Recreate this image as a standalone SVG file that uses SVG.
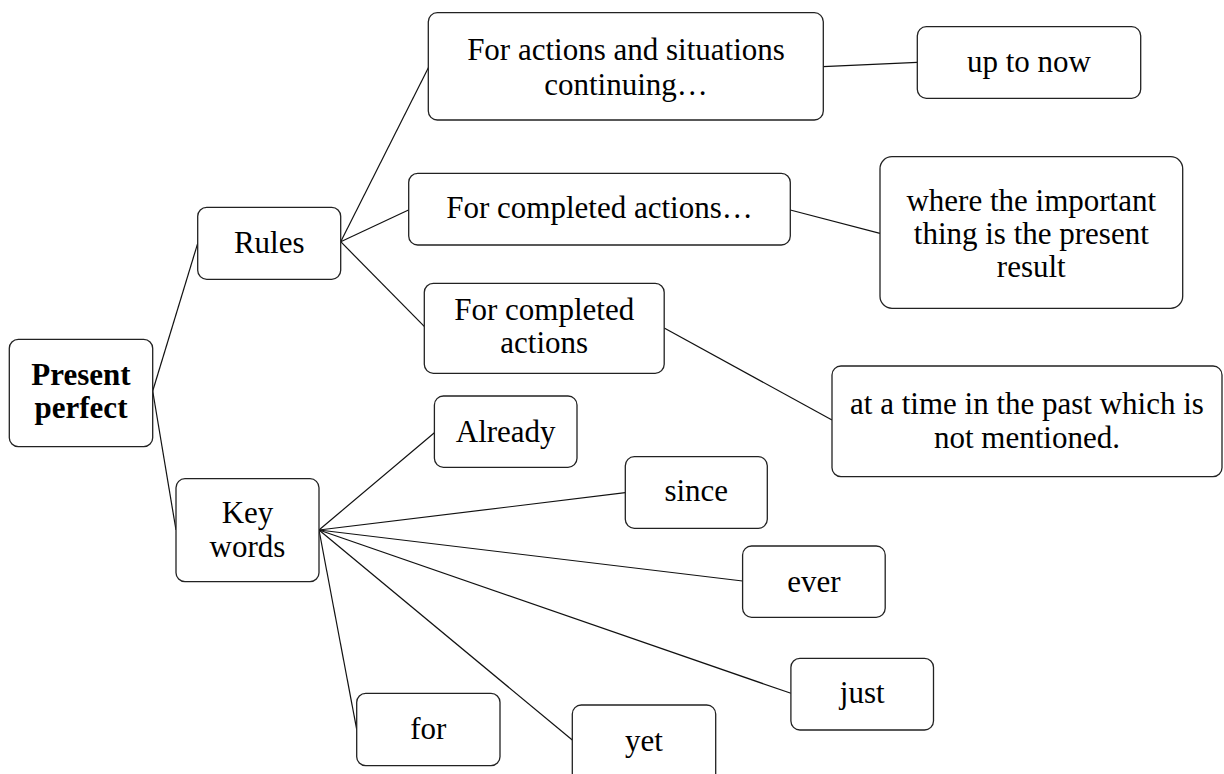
<svg xmlns="http://www.w3.org/2000/svg" width="1224" height="774" viewBox="0 0 1224 774">
<style>
.box{fill:#fff;stroke:#222;stroke-width:1.3}
.t{font-family:"Liberation Serif","Times New Roman",serif;font-size:31px;fill:#000;text-anchor:middle}
.b{font-weight:bold}
.c line{stroke:#111;stroke-width:1.2}
</style>
<rect width="1224" height="774" fill="#fff"/>
<g class="c" id="connectors">
<line x1="152.7" y1="391" x2="197.7" y2="243.3"/>
<line x1="152.7" y1="391" x2="176" y2="530"/>
<line x1="340.7" y1="241.7" x2="429" y2="66.5"/>
<line x1="340.7" y1="241.7" x2="408.5" y2="210"/>
<line x1="340.7" y1="241.7" x2="424.5" y2="326.7"/>
<line x1="823" y1="66.7" x2="917.3" y2="62.3"/>
<line x1="790.3" y1="210" x2="880" y2="233.3"/>
<line x1="664.2" y1="328" x2="832" y2="420"/>
<line x1="319" y1="530" x2="434.4" y2="432.7"/>
<line x1="319" y1="530" x2="625.3" y2="492.7"/>
<line x1="319" y1="530" x2="742.6" y2="581"/>
<line x1="319" y1="530" x2="790.9" y2="693.3"/>
<line x1="319" y1="530" x2="572.3" y2="740"/>
<line x1="319" y1="530" x2="356.7" y2="729.3"/>
</g>
<g id="present-perfect">
<rect class="box" x="9.3" y="339.3" width="143.4" height="107.4" rx="9"/>
<text class="t b" x="81" y="385">Present</text>
<text class="t b" x="81" y="418.3">perfect</text>
</g>
<g id="rules">
<rect class="box" x="197.7" y="207.3" width="143" height="72" rx="9"/>
<text class="t" x="269.2" y="253.3">Rules</text>
</g>
<g id="key-words">
<rect class="box" x="176" y="478.7" width="143" height="103" rx="9"/>
<text class="t" x="247.5" y="523.3">Key</text>
<text class="t" x="247.5" y="556.8">words</text>
</g>
<g id="for-actions-continuing">
<rect class="box" x="428.3" y="12.7" width="395" height="107.3" rx="9"/>
<text class="t" x="626" y="60">For actions and situations</text>
<text class="t" x="626" y="94.5">continuing…</text>
</g>
<g id="up-to-now">
<rect class="box" x="917.3" y="26.7" width="223.4" height="71.6" rx="9"/>
<text class="t" x="1029" y="72.3">up to now</text>
</g>
<g id="for-completed-actions-result">
<rect class="box" x="408.7" y="173.3" width="381.6" height="71.7" rx="9"/>
<text class="t" x="599.5" y="218.3">For completed actions…</text>
</g>
<g id="where-important">
<rect class="box" x="880" y="156.7" width="302.7" height="151.6" rx="12"/>
<text class="t" x="1031.3" y="210.7">where the important</text>
<text class="t" x="1031.3" y="244">thing is the present</text>
<text class="t" x="1031.3" y="277">result</text>
</g>
<g id="for-completed-actions-past">
<rect class="box" x="424.3" y="283.3" width="239.9" height="90" rx="9"/>
<text class="t" x="544.2" y="320">For completed</text>
<text class="t" x="544.2" y="353.3">actions</text>
</g>
<g id="at-a-time">
<rect class="box" x="832" y="366" width="390" height="110.7" rx="9"/>
<text class="t" x="1027" y="414.3">at a time in the past which is</text>
<text class="t" x="1027" y="447.7">not mentioned.</text>
</g>
<g id="already">
<rect class="box" x="434.4" y="396" width="142.6" height="71.3" rx="9"/>
<text class="t" x="505.7" y="441.7">Already</text>
</g>
<g id="since">
<rect class="box" x="625.3" y="456.7" width="142" height="71.6" rx="9"/>
<text class="t" x="696.3" y="501">since</text>
</g>
<g id="ever">
<rect class="box" x="742.6" y="546" width="142.6" height="71.3" rx="9"/>
<text class="t" x="813.9" y="591.7">ever</text>
</g>
<g id="just">
<rect class="box" x="790.9" y="658.3" width="142.6" height="71.7" rx="9"/>
<text class="t" x="862.2" y="703.3">just</text>
</g>
<g id="for">
<rect class="box" x="356.7" y="693.3" width="143.3" height="72.4" rx="9"/>
<text class="t" x="428.3" y="739">for</text>
</g>
<g id="yet">
<rect class="box" x="572.3" y="705" width="143.4" height="80" rx="9"/>
<text class="t" x="644" y="750.5">yet</text>
</g>
</svg>
